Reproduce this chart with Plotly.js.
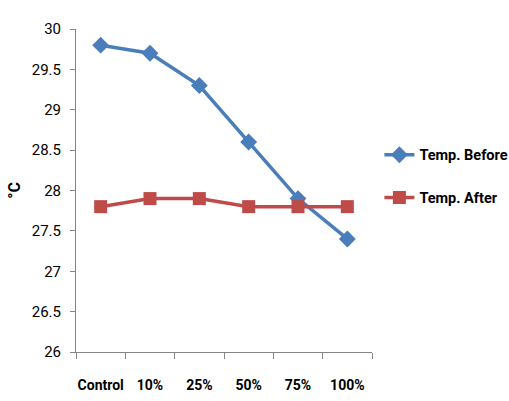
<!DOCTYPE html>
<html><head><meta charset="utf-8">
<script src="https://cdn.plot.ly/plotly-3.0.1.min.js"></script>
<style>body{margin:0;background:#fff}#c{width:509px;height:401px}</style>
</head><body><div id="c"></div>
<script>
var categories = ["Control", "10%", "25%", "50%", "75%", "100%"];
var tempBefore = [29.8, 29.7, 29.3, 28.6, 27.9, 27.4];
var tempAfter = [27.8, 27.9, 27.9, 27.8, 27.8, 27.8];
var yTicks = [26, 26.5, 27, 27.5, 28, 28.5, 29, 29.5, 30];
var yTickText = ["26", "26.5", "27", "27.5", "28", "28.5", "29", "29.5", "30"];

var fnt = "Roboto, 'Liberation Sans', sans-serif";
var traces = [
  {x: categories, y: tempBefore, name: "Temp. Before", type: "scatter", mode: "lines+markers",
   legendgroup: "a",
   line: {color: "#4A7EBB", width: 3.5}, marker: {symbol: "diamond", size: 13, color: "#4A7EBB"}},
  {x: categories, y: tempAfter, name: "Temp. After", type: "scatter", mode: "lines+markers",
   legendgroup: "b",
   line: {color: "#BE4B48", width: 3.5}, marker: {symbol: "square", size: 13, color: "#BE4B48"}}
];
var layout = {
  width: 509, height: 401,
  margin: {l: 76, r: 137, t: 29, b: 49, autoexpand: false},
  paper_bgcolor: "#fff", plot_bgcolor: "#fff",
  font: {family: fnt, size: 14, color: "#000"},
  showlegend: true,
  legend: {x: 1.025, y: 0.66, xanchor: "left", yanchor: "top", tracegroupgap: 21,
           font: {family: fnt, size: 14.5, color: "#000", weight: "bold"}, bgcolor: "rgba(0,0,0,0)"},
  xaxis: {type: "category", showline: true, linecolor: "#868686", linewidth: 1, automargin: false,
          showgrid: false, zeroline: false, ticks: "outside", tickson: "boundaries",
          ticklen: 6, tickcolor: "#868686", range: [-0.5, 5.5], tickangle: 0,
          ticklabelstandoff: 20,
          tickfont: {family: fnt, size: 14, weight: "bold"}},
  yaxis: {range: [26, 30], tickvals: yTicks, ticktext: yTickText, showline: true, automargin: false,
          linecolor: "#868686", linewidth: 1, showgrid: false, zeroline: false,
          ticks: "outside", ticklen: 5, tickcolor: "#868686", ticklabelstandoff: 6,
          tickfont: {family: fnt, size: 15},
          title: {text: "°C", font: {family: fnt, size: 16, weight: "bold"}, standoff: 7}}
};
Plotly.newPlot("c", traces, layout, {displayModeBar: false, staticPlot: true});
</script></body></html>
